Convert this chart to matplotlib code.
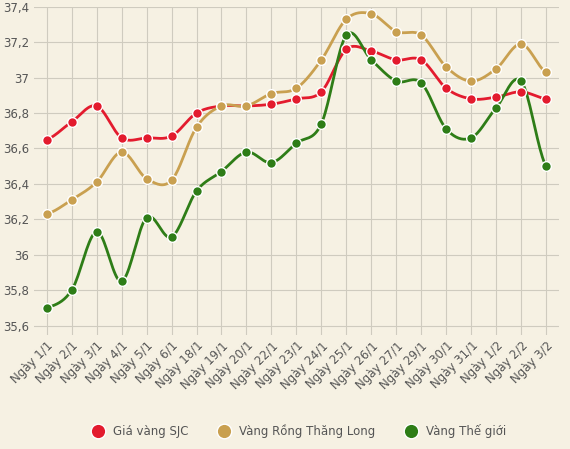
import numpy as np
import matplotlib
matplotlib.use("Agg")
import matplotlib.pyplot as plt
from matplotlib.ticker import FuncFormatter

days = ["1/1", "2/1", "3/1", "4/1", "5/1", "6/1", "18/1", "19/1", "20/1", "22/1", "23/1",
        "24/1", "25/1", "26/1", "27/1", "29/1", "30/1", "31/1", "1/2", "2/2", "3/2"]
labels = ["Ngày " + d for d in days]
sjc = [36.65, 36.75, 36.84, 36.66, 36.66, 36.67, 36.80, 36.84, 36.84, 36.85, 36.88,
       36.92, 37.16, 37.15, 37.10, 37.10, 36.94, 36.88, 36.89, 36.92, 36.88]
rong = [36.23, 36.31, 36.41, 36.58, 36.43, 36.42, 36.72, 36.84, 36.84, 36.91, 36.94,
        37.10, 37.33, 37.36, 37.26, 37.24, 37.06, 36.98, 37.05, 37.19, 37.03]
world = [35.70, 35.80, 36.13, 35.85, 36.21, 36.10, 36.36, 36.47, 36.58, 36.52, 36.63,
         36.74, 37.24, 37.10, 36.98, 36.97, 36.71, 36.66, 36.83, 36.98, 36.50]

series = [("Giá vàng SJC", sjc, "#e31b2e"),
          ("Vàng Rồng Thăng Long", rong, "#c9a050"),
          ("Vàng Thế giới", world, "#2e7d17")]


def smooth(y, n=20):
    # Catmull-Rom spline through the points
    y = np.asarray(y, float)
    p = np.concatenate([[y[0]], y, [y[-1]]])
    xs, ys = [], []
    for i in range(len(y) - 1):
        p0, p1, p2, p3 = p[i], p[i + 1], p[i + 2], p[i + 3]
        t = np.linspace(0, 1, n, endpoint=False)
        ys.append(0.5 * ((2 * p1) + (-p0 + p2) * t + (2 * p0 - 5 * p1 + 4 * p2 - p3) * t**2
                         + (-p0 + 3 * p1 - 3 * p2 + p3) * t**3))
        xs.append(i + t)
    xs.append([len(y) - 1]); ys.append([y[-1]])
    return np.concatenate(xs), np.concatenate(ys)


bg = "#f6f1e3"
fig = plt.figure(figsize=(5.70, 4.49), dpi=100, facecolor=bg)
ax = fig.add_axes([0.06, 0.255, 0.92, 0.73], facecolor=bg)
x = np.arange(len(days))
for name, vals, col in series:
    sx, sy = smooth(vals)
    ax.plot(sx, sy, color=col, lw=2, zorder=3)
    ax.plot(x, vals, "o", color=col, ms=7, mec="white", mew=1, zorder=4, label=name)

ax.set_xlim(-0.5, len(days) - 0.5)
ax.set_ylim(35.55, 37.4)
ax.set_yticks(np.arange(35.6, 37.41, 0.2))
ax.yaxis.set_major_formatter(FuncFormatter(lambda v, p: f"{v:g}".replace(".", ",")))
ax.set_xticks(x)
ax.set_xticklabels(labels, rotation=45, ha="right", rotation_mode="anchor")
ax.grid(True, color="#cfcbbf", lw=0.8)
for s in ax.spines.values():
    s.set_visible(False)
ax.tick_params(colors="#555555", labelsize=8.5, length=0)
ax.legend(loc="upper center", bbox_to_anchor=(0.5, -0.24), ncol=3, frameon=False,
          fontsize=8.5, labelcolor="#555555", markerscale=1.5, handletextpad=0.3, columnspacing=2)
fig.savefig("out.png", dpi=100, facecolor=bg)
